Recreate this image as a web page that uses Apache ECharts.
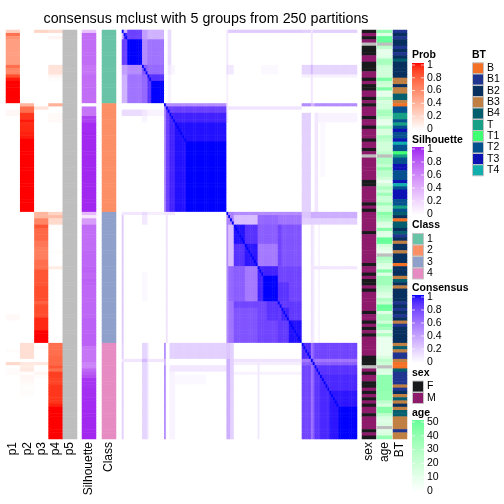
<!DOCTYPE html>
<html><head><meta charset="utf-8">
<style>html,body{margin:0;padding:0;background:#fff}#c{width:504px;height:504px}</style>
<script src="https://cdn.jsdelivr.net/npm/echarts@6/dist/echarts.min.js"></script>
</head><body><div id="c"></div>
<script>
const NA = -1;
const titleText = 'consensus mclust with 5 groups from 250 partitions';
const probLabels = ['p1','p2','p3','p4','p5'];
const legendTicks = [1,0.8,0.6,0.4,0.2,0];
const ageTicks = [50,40,30,20,10,0];
const classNames = ['1','2','3','4'];
const sexNames = ['F','M'];
const btNames = ['B','B1','B2','B3','B4','T','T1','T2','T3','T4'];
const classColors = ['#69c3a7','#fc8f65','#8fa1cb','#e78bc3'];
const sexColors = ['#191a1c','#8e1a6c'];
const btColors = ['#f37024','#1f358f','#07305f','#c08044','#035f6e','#17a085','#3fff72','#05508f','#0d12b5','#12adad'];
const naColor = '#bebebe';
const probEnd = '#ff0000', silEnd = '#a020f0', consEnd = '#0000ff', ageEnd = '#66ff99';

const p1 = [.25,.7,.55,.5,.5,.5,.5,.5,.5,.5,.5,.72,.62,.62,.85,.97,1,1,1,1,1,1,1,
0,0,.04,.04,0,0,0,0,0,0,0,0,0,0,0,0,0,0,0,0,0,0,0,0,0,0,0,0,0,0,0,0,0,0,
0,0,0,0,0,0,0,0,0,0,0,0,0,0,0,0,0,0,0,0,0,0,0,0,0,0,0,0,0,0,0,0,.03,.03,0,0,0,0,0,0,0,0,
0,.02,0,0,0,.2,0,.02,.02,0,0,0,0,0,0,0,0,0,0,0,0,0,0,0,0,0,0,0,0,0];
const p2 = [0,0,0,0,0,0,0,0,0,0,0,0,0,0,0,0,0,0,0,0,0,0,0,
.38,.72,.72,.92,.92,.97,.94,.95,.95,.96,.97,1,1,1,1,1,1,1,1,1,1,1,1,1,1,1,1,1,1,1,1,1,1,1,
0,0,0,0,0,0,0,0,0,0,0,0,0,0,0,0,0,0,0,0,0,0,0,0,0,0,0,0,0,0,0,0,0,0,0,0,0,0,0,0,0,
.17,.17,.17,.17,.17,0,.12,.1,.12,.01,.04,.04,.03,.01,.01,.02,.01,0,0,0,0,0,0,0,0,0,0,0,0,0];
const p3 = [.22,0,0,0,0,0,0,0,0,0,0,0,0,0,0,0,0,0,0,0,0,0,0,
0,.15,0,0,0,0,0,0,0,0,0,0,0,0,0,0,0,0,0,0,0,0,0,0,0,0,0,0,0,0,0,0,0,0,
.38,.38,.62,.62,.82,.75,.75,.75,.75,.68,.68,.65,.65,.65,.65,.72,.72,.72,.82,.82,.82,.82,.82,.85,.85,.85,.85,.85,.78,.85,.85,.85,.85,.95,.95,.95,.95,1,1,1,1,
0,.02,0,0,0,0,.12,0,0,.05,.01,0,0,0,0,0,0,0,0,0,0,0,0,0,0,0,0,0,0,0];
const p4 = [.18,0,.05,0,0,0,0,0,0,0,0,.15,.15,.15,.05,.01,0,0,0,0,0,0,0,
.4,0,0,.03,.03,.03,0,0,0,0,0,0,0,0,0,0,0,0,0,0,0,0,0,0,0,0,0,0,0,0,0,0,0,0,
.22,.35,.2,.2,.01,.01,0,0,0,0,0,0,.01,0,0,0,0,.1,0,0,0,0,0,0,0,0,0,0,0,0,0,0,0,0,0,0,0,0,0,0,0,
.72,.72,.72,.72,.75,.75,.75,.82,.72,.9,.9,.88,.88,.92,.92,.92,.92,.92,.92,.96,1,1,1,1,1,1,1,1,1,1];
const p5 = new Array(128).fill(NA);
const silhouette = [.3,.72,.72,.72,.72,.72,.72,.72,.72,.72,.72,.68,.68,.68,.72,.72,.72,.72,.72,.72,.72,.72,.72,
0,.68,.68,.68,.9,.9,.97,.97,.97,.98,.98,.98,.98,.98,.98,.98,.98,.98,.98,.98,.98,.98,.98,.98,.98,.98,.98,.98,.98,.98,.98,.98,.98,.98,
.35,.12,.5,.5,.72,.72,.72,.72,.72,.72,.72,.72,.75,.75,.75,.75,.75,.77,.77,.74,.74,.77,.77,.75,.75,.75,.75,.75,.75,.75,.75,.75,.75,.77,.77,.77,.77,.77,.77,.77,.77,.77,
.68,.68,.68,.68,.68,.62,.62,.75,.8,.85,.95,.95,.95,.96,.96,.96,.97,.97,.97,.97,.98,.98,.98,.98,.98,.98,.98,.98,.98,.98];
const classes = [].concat(new Array(23).fill(0),new Array(34).fill(1),new Array(41).fill(2),new Array(30).fill(3));
const sex = 'FMFMN FFF MM FFF MM F M FF MM F M F MMM F MM F MMM F MM F M N MMMMMMM FF MMMMM F M F MMMMMM F MMMMMMMMM F MM F M FF M F MMMMMM F MM F M F M F MMMMMM FFF N M F MM FF M F M F M F MM F MMMM F M F'.replace(/ /g,'').split('');
const age = [38,12,50,50,NA,25,10,10,12,32,32,20,18,18,18,45,22,18,45,10,10,28,15,18,18,32,32,22,10,8,30,15,15,30,25,18,18,18,25,NA,30,30,22,38,25,25,18,8,18,30,20,35,20,20,35,18,18,42,35,30,15,12,42,12,12,50,50,18,12,8,NA,30,25,15,12,42,12,35,35,35,25,22,15,12,30,22,50,48,12,30,30,18,40,32,12,30,8,8,8,8,8,8,15,25,20,NA,15,12,40,40,40,40,40,38,38,38,25,15,42,42,25,15,12,15,NA,12,15,38];
const bt = ['B1','B2','B1','B2','B2','B1','B2','B1','B2','B4','B2','B2','B2','B2','B2','B3','B3','B2','B3','B3','B4','B4','B3','B','T2','T2','T','T','T2','T','T2','T3','T2','T2','T3','T4','T2','T2','T1','T','T2','T2','T3','T3','T2','T2','T2','T3','T4','T2','T3','T3','T3','T2','T2','T','T2','B4','B2','B','B4','B4','B2','B4','B1','B2','B3','B2','B2','B3','B2','B2','B2','B','B2','B2','B2','B3','B4','B2','B3','B2','B2','B2','B2','B1','B2','B1','B2','B1','B2','B3','B1','B2','B2','B2','B2','B2','B3','B4','B3','B1','B1','B3','B','B','B4','B1','B1','B1','B1','B3','B1','B2','B3','B4','B3','B2','B3','B4','B4','B3','B3','B3','B3','B1','B3','B3'];

// [rowFrom,rowTo,colFrom,colTo,consensus]
const consensusBlocks = [
[0,22,0,22,.6],[0,22,0,0,.55],[1,22,1,2,.42],[1,2,1,2,.9],[0,0,0,22,.33],[0,2,3,10,.82],[0,2,11,13,.42],[0,2,14,22,.33],
[3,10,3,10,1],[3,10,11,13,.5],[3,10,14,22,.6],[11,13,11,13,.72],[11,13,14,22,.65],[14,22,14,22,1],[14,15,14,22,.88],
[23,56,23,56,.75],[23,23,23,56,.5],[24,56,24,56,.82],[26,56,26,56,.93],[29,56,29,56,.97],[35,56,35,56,1],
[25,26,0,10,.15],[25,26,11,13,.1],[25,26,14,22,.05],[27,28,11,13,.04],
[0,0,57,97,.22],[0,22,57,57,.07],[11,13,57,60,.09],[57,57,0,10,.1],[57,57,11,13,.15],[76,84,11,13,.03],
[0,0,98,127,.2],[11,13,98,127,.18],[14,14,98,127,.06],[0,22,103,103,.11],[11,13,103,103,.3],
[24,24,57,97,.12],[57,57,23,26,.1],[23,28,57,57,.1],
[23,23,98,127,.5],[23,23,103,104,.32],[26,56,98,102,.2],[26,56,105,106,.1],[26,28,107,127,.05],[29,45,108,110,.03],
[57,58,98,127,.35],[59,60,98,127,.2],[57,58,98,102,.25],
[61,97,103,103,.12],[61,97,107,107,.05],[61,97,104,104,.07],[74,74,103,127,.1],
[57,60,57,60,.55],[57,57,61,97,.5],[58,60,61,73,.28],[58,60,74,84,.66],[58,60,85,97,.6],
[61,73,61,73,.93],[61,66,61,66,.97],[67,73,67,73,.96],[61,66,67,73,.88],
[74,84,61,66,.7],[74,84,67,73,.58],[61,73,85,97,.74],[85,86,61,84,.8],[74,84,74,84,.93],[77,84,77,84,1],[74,84,85,97,.8],[79,84,85,90,.87],
[85,97,85,97,.85],[91,97,91,97,.97],[87,90,87,90,.93],
[98,127,98,127,.8],[105,127,105,127,.87],[108,127,108,127,.91],[113,127,113,127,.96],[118,127,118,127,1],[98,102,98,102,.9],[103,103,98,127,.6],[104,104,98,127,.7]
];

function rgb2lab(h){
  const c=[1,3,5].map(i=>parseInt(h.substr(i,2),16)/255).map(v=>v<=.04045?v/12.92:Math.pow((v+.055)/1.055,2.4));
  const X=(.4124*c[0]+.3576*c[1]+.1805*c[2])/.9505,Y=.2126*c[0]+.7152*c[1]+.0722*c[2],Z=(.0193*c[0]+.1192*c[1]+.9505*c[2])/1.089;
  const f=t=>t>.008856?Math.cbrt(t):7.787*t+16/116;
  return [116*f(Y)-16,500*(f(X)-f(Y)),200*(f(Y)-f(Z))];
}
function lab2rgb(l){
  const fy=(l[0]+16)/116,fx=fy+l[1]/500,fz=fy-l[2]/200;
  const g=t=>t*t*t>.008856?t*t*t:(t-16/116)/7.787;
  const X=.9505*g(fx),Y=g(fy),Z=1.089*g(fz);
  const rgb=[3.2406*X-1.5372*Y-.4986*Z,-.9689*X+1.8758*Y+.0415*Z,.0557*X-.204*Y+1.057*Z];
  return 'rgb('+rgb.map(v=>{v=Math.min(1,Math.max(0,v));v=v<=.0031308?12.92*v:1.055*Math.pow(v,1/2.4)-.055;return Math.round(v*255);}).join(',')+')';
}
function ramp(end){
  const a=rgb2lab('#ffffff'),b=rgb2lab(end),out=[];
  for(let i=0;i<=20;i++){const t=i/20;out.push(lab2rgb(a.map((v,k)=>v+(b[k]-v)*t)));}
  return out;
}

const N = classes.length;
const sampleIds = classes.map((_,i)=>i);
const matrix = sampleIds.map(()=>new Array(N).fill(0));
consensusBlocks.forEach(b=>{for(let r=b[0];r<=b[1];r++)for(let c=b[2];c<=b[3];c++){matrix[r][c]=b[4];matrix[c][r]=b[4];}});
sampleIds.forEach(i=>{matrix[i][i]=1;});
const consensusData=[];
matrix.forEach((row,r)=>row.forEach((v,c)=>consensusData.push([c,r,v])));

const TOP=30,H=409;
const grids=[],xAxes=[],yAxes=[],series=[],visualMaps=[];
function addStrip(left,width,names,columns,vm){
  const g=grids.length;
  grids.push({left:left,top:TOP,width:width,height:H,containLabel:false});
  xAxes.push({type:'category',gridIndex:g,data:names,position:'bottom',axisLine:{show:false},axisTick:{show:false},splitLine:{show:false},
    axisLabel:{rotate:90,margin:3,interval:0,fontFamily:'Liberation Sans',fontSize:12,color:'#000'}});
  yAxes.push({type:'category',gridIndex:g,data:sampleIds,inverse:true,show:false});
  const data=[];
  columns.forEach((col,cx)=>col.forEach((v,r)=>data.push([cx,r,v===NA&&vm.type==='continuous'?vm.min:v])));
  series.push({type:'heatmap',xAxisIndex:g,yAxisIndex:g,data:data,progressive:0,silent:true,emphasis:{disabled:true},animation:false});
  visualMaps.push(Object.assign({show:false,seriesIndex:series.length-1,dimension:2},vm));
}
// the scale's lowest stop (one step under 0) is the grey used for missing values
function contVM(end,max){return {type:'continuous',min:-max/20,max:max,inRange:{color:[naColor].concat(ramp(end))}};}
function catVM(colors){
  const pieces=colors.map((c,i)=>({value:i,color:c}));pieces.push({value:NA,color:naColor});
  return {type:'piecewise',pieces:pieces};
}
addStrip(6,71,probLabels,[p1,p2,p3,p4,p5],contVM(probEnd,1));
addStrip(82,14,['Silhouette'],[silhouette],contVM(silEnd,1));
addStrip(102,14,['Class'],[classes],catVM(classColors));
{
  const g=grids.length;
  grids.push({left:122,top:TOP,width:235,height:H,containLabel:false});
  xAxes.push({type:'category',gridIndex:g,data:sampleIds,show:false});
  yAxes.push({type:'category',gridIndex:g,data:sampleIds,inverse:true,show:false});
  series.push({type:'heatmap',xAxisIndex:g,yAxisIndex:g,data:consensusData,progressive:0,silent:true,emphasis:{disabled:true},animation:false});
  visualMaps.push(Object.assign({show:false,seriesIndex:series.length-1,dimension:2},contVM(consEnd,1)));
}
addStrip(362,14,['sex'],[sex.map(s=>s==='N'?NA:sexNames.indexOf(s))],catVM(sexColors));
addStrip(377,15,['age'],[age],contVM(ageEnd,50));
addStrip(393,14,['BT'],[bt.map(b=>btNames.indexOf(b))],catVM(btColors));

// legends
const LX=412,LW=12,gfx=[];
const txt=(x,y,s,bold)=>gfx.push({type:'text',x:x,y:y,silent:true,style:{text:s,x:0,y:0,fill:'#000',font:(bold?'bold ':'')+'10.5px "Liberation Sans"',textAlign:'left',textVerticalAlign:'middle'}});
function colorbar(title,ty,y0,y1,end,ticks){
  txt(LX,ty,title,true);
  const cs=ramp(end);
  gfx.push({type:'rect',silent:true,shape:{x:LX,y:y0,width:LW,height:y1-y0},style:{stroke:null,
    fill:new echarts.graphic.LinearGradient(0,0,0,1,cs.map((c,i)=>({offset:1-i/(cs.length-1),color:c})))}});
  const n=ticks.length-1;
  ticks.forEach((t,i)=>{
    const y=y0+2+(y1-y0-3)*i/n;
    if(i<n){
      gfx.push({type:'line',silent:true,shape:{x1:LX,y1:y,x2:LX+3,y2:y},style:{stroke:'#fff',lineWidth:1,opacity:.7}});
      gfx.push({type:'line',silent:true,shape:{x1:LX+LW-3,y1:y,x2:LX+LW,y2:y},style:{stroke:'#fff',lineWidth:1,opacity:.7}});
    }
    txt(LX+15,y,String(t));
  });
}
function swatches(title,tx,ty,ys,names,colors){
  txt(tx,ty,title,true);
  names.forEach((nm,i)=>{
    gfx.push({type:'rect',silent:true,shape:{x:tx+.5,y:ys[i]-5.5,width:LW-1,height:11},style:{fill:colors[i],stroke:'#c4c4c4',lineWidth:1}});
    txt(tx+15,ys[i],nm);
  });
}
colorbar('Prob',55,63,130,probEnd,legendTicks);
colorbar('Silhouette',140,147,215,silEnd,legendTicks);
swatches('Class',LX,225,[239,250.5,262,273.5],classNames,classColors);
colorbar('Consensus',288,295,363,consEnd,legendTicks);
swatches('sex',LX,373,[386.5,398],sexNames,sexColors);
colorbar('age',413,420,492,ageEnd,ageTicks);
swatches('BT',472,55,[68.3,79.5,91,102.3,113.5,125,136,147.5,159,170.3],btNames,btColors);

const chart=echarts.init(document.getElementById('c'),null,{renderer:'canvas',width:504,height:504});
chart.setOption({
  animation:false,backgroundColor:'#fff',
  title:{text:titleText,left:201,top:7,textAlign:'center',textStyle:{fontFamily:'Liberation Sans',fontSize:14.3,fontWeight:'normal',color:'#000'}},
  grid:grids,xAxis:xAxes,yAxis:yAxes,visualMap:visualMaps,series:series,graphic:{elements:gfx}
});
</script></body></html>
